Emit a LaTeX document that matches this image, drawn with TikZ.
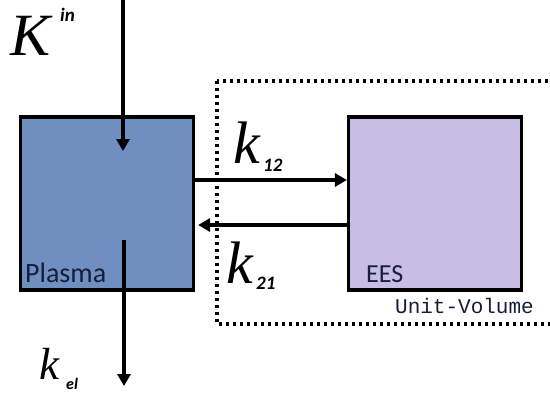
\documentclass[tikz,border=0pt]{standalone}
\usepackage{fontspec}
\setmainfont{Liberation Serif}
\setmonofont{Liberation Mono}
\newfontfamily\calfont{Carlito}
\definecolor{plasmablue}{RGB}{110,143,192}
\definecolor{eeslilac}{RGB}{199,189,229}
\definecolor{labelink}{RGB}{22,30,58}
\usetikzlibrary{arrows.meta,positioning,calc}

\begin{document}
\begin{tikzpicture}[x=1pt,y=1pt,yscale=-1,xscale=1,
	comp/.style={draw=black,line width=3.2pt,minimum width=173pt,minimum height=173pt,inner sep=0pt},
	flow/.style={line width=3.6pt,-{Triangle[length=12pt,width=13pt]}},
	rate/.style={anchor=base west,inner sep=0pt,font=\fontsize{60}{60}\selectfont\itshape},
	idx/.style={anchor=base west,inner sep=0pt,font=\fontsize{19}{19}\selectfont\calfont\itshape\bfseries},
	boxlabel/.style={anchor=base west,inner sep=0pt,text=labelink,font=\fontsize{26}{26}\selectfont\calfont}]
	\useasboundingbox (0,0) rectangle (550,402);
	\clip (0,0) rectangle (550,402);

	%Shape: Dotted volume
	\draw [line width=3.2pt,dash pattern=on 3pt off 4pt] (217,81) rectangle (570,324);

	%Shape: Compartments
	\node [comp,fill=plasmablue] (plasma) at (107,203.5) {};
	\node [comp,fill=eeslilac] (ees) at (435,203.5) {};

	%Straight Lines: input and elimination
	\coordinate (inTop) at (123,-2);
	\coordinate (inEnd) at (123,151);
	\coordinate (outStart) at (124,240);
	\coordinate (outEnd) at (124,386);
	\draw [flow] (inTop) -- (inEnd);
	\draw [flow] (outStart) -- (outEnd);

	%Straight Lines: exchange
	\draw [flow] ($(plasma.east)+(0,-23.5)$) -- ($(ees.west)+(0,-23.5)$);
	\draw [flow] ($(ees.west)+(0,21.5)$) -- ($(plasma.east)+(3,21.5)$);

	% Text Node
	\node [rate] (kin) at (10,55) {K};
	\node [idx] (kinsup) at (60,21) {in};
	% Text Node
	\node [rate] (k12) at (233,163) {k};
	\node [idx] (k12sub) at (263,171) {12};
	% Text Node
	\node [rate] (k21) at (226,283) {k};
	\node [idx] (k21sub) at (256,289) {21};
	% Text Node
	\node [rate,font=\fontsize{45}{45}\selectfont\itshape] (kel) at (39,379) {k};
	\node [idx,font=\fontsize{16}{16}\selectfont\calfont\itshape\bfseries] (kelsub) at (66,389) {el};
	% Text Node
	\node [boxlabel,font=\fontsize{28}{28}\selectfont\calfont] (plasmatext) at (25,282) {Plasma};
	\node [boxlabel] (eestext) at (366,282) {EES};
	\node [anchor=base east,inner sep=0pt,text=labelink,font=\fontsize{21}{21}\selectfont\ttfamily] (unitvol) at (534,313) {Unit-Volume};

\end{tikzpicture}
\end{document}
